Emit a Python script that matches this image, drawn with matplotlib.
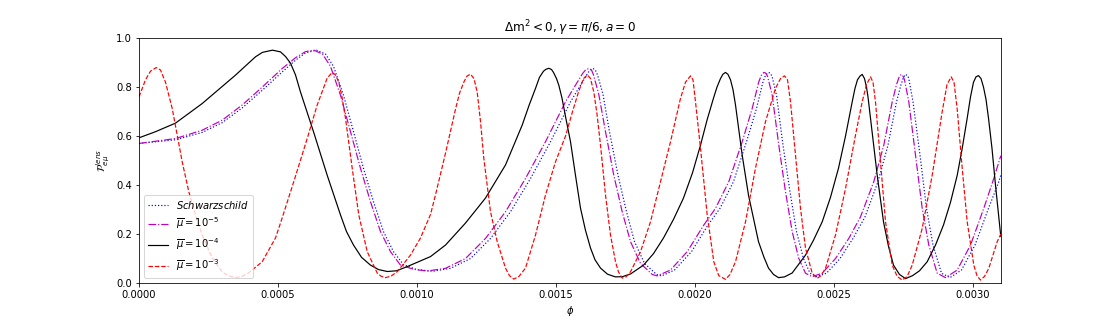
import matplotlib
matplotlib.use('Agg')
import matplotlib.pyplot as plt
import numpy as np

# phi values in units of 1e-4, probabilities
phi_schw = [0.0, 1.313, 2.273, 2.993, 3.712, 4.432, 5.151, 5.629, 5.989, 6.385, 6.709, 6.996,
            7.356, 7.716, 8.076, 8.435, 8.795, 9.155, 9.514, 9.982, 10.558, 11.205, 11.924,
            12.644, 13.363, 14.083, 14.802, 15.522, 15.881, 16.133, 16.223, 16.338, 16.421,
            16.493, 16.691, 16.924, 17.230, 17.536, 17.824, 18.183, 18.615, 18.795, 19.263,
            19.874, 20.468, 20.899, 21.385, 21.853, 22.212, 22.446, 22.536, 22.633, 22.698,
            22.770, 22.932, 23.165, 23.417, 23.651, 23.903, 24.137, 24.371, 24.730, 25.216,
            25.683, 26.115, 26.583, 26.942, 27.248, 27.410, 27.500, 27.572, 27.662, 27.698,
            27.842, 28.094, 28.327, 28.561, 28.867, 29.173, 29.586, 30.072, 30.558, 30.917,
            31.0]
P_schw = [0.57, 0.585, 0.615, 0.655, 0.715, 0.787, 0.862, 0.91, 0.94, 0.951, 0.935, 0.885,
          0.767, 0.618, 0.468, 0.332, 0.21, 0.128, 0.075, 0.055, 0.048, 0.06, 0.10,
          0.182, 0.291, 0.427, 0.577, 0.74, 0.808, 0.855, 0.87, 0.876, 0.868,
          0.85, 0.77, 0.618, 0.44, 0.291, 0.169, 0.08, 0.035, 0.029, 0.053,
          0.128, 0.237, 0.305, 0.414, 0.577, 0.713, 0.822, 0.848, 0.86, 0.858,
          0.845, 0.767, 0.563, 0.373, 0.21, 0.10, 0.04, 0.026, 0.04, 0.10,
          0.182, 0.27, 0.414, 0.563, 0.74, 0.81, 0.84, 0.852, 0.845, 0.83,
          0.74, 0.522, 0.305, 0.155, 0.04, 0.022, 0.053, 0.155, 0.305, 0.41,
          0.44]

phi_m5 = [0.0, 1.313, 2.273, 2.993, 3.712, 4.432, 5.151, 5.629, 5.989, 6.288, 6.601, 6.888,
          7.248, 7.608, 7.968, 8.327, 8.687, 9.047, 9.406, 9.885, 10.367, 11.025, 11.745,
          12.464, 13.183, 13.903, 14.622, 15.342, 15.701, 15.953, 16.061, 16.180, 16.277,
          16.349, 16.540, 16.781, 17.079, 17.381, 17.680, 18.040, 18.460, 18.640, 19.119,
          19.719, 20.317, 20.737, 21.216, 21.698, 22.058, 22.295, 22.385, 22.475, 22.536,
          22.608, 22.777, 23.014, 23.255, 23.496, 23.734, 23.975, 24.216, 24.576, 25.054,
          25.532, 25.953, 26.432, 26.791, 27.094, 27.248, 27.338, 27.417, 27.482, 27.536,
          27.691, 27.932, 28.173, 28.410, 28.712, 29.011, 29.432, 29.910, 30.388, 30.748,
          31.0]
P_m5 = [0.57, 0.59, 0.624, 0.665, 0.727, 0.80, 0.876, 0.92, 0.945, 0.951, 0.935, 0.885,
        0.767, 0.618, 0.468, 0.332, 0.21, 0.128, 0.073, 0.056, 0.049, 0.06, 0.10,
        0.182, 0.291, 0.427, 0.577, 0.74, 0.808, 0.855, 0.87, 0.876, 0.87,
        0.85, 0.77, 0.618, 0.44, 0.291, 0.169, 0.08, 0.035, 0.029, 0.053,
        0.128, 0.237, 0.305, 0.414, 0.577, 0.713, 0.822, 0.848, 0.86, 0.858,
        0.845, 0.767, 0.563, 0.373, 0.21, 0.10, 0.04, 0.026, 0.04, 0.10,
        0.182, 0.27, 0.414, 0.563, 0.74, 0.81, 0.84, 0.852, 0.845, 0.83,
        0.74, 0.522, 0.305, 0.155, 0.04, 0.022, 0.053, 0.155, 0.305, 0.427,
        0.52]

phi_m4 = [0.0, 0.594, 1.313, 2.273, 3.471, 4.191, 4.442, 4.802, 5.090, 5.270, 5.450, 5.629,
          5.809, 6.277, 6.770, 7.248, 7.464, 7.716, 8.004, 8.327, 8.615, 8.928, 9.263,
          9.647, 10.486, 11.025, 11.745, 12.464, 13.183, 13.471, 13.784, 14.029, 14.263,
          14.406, 14.550, 14.640, 14.741, 14.838, 14.910, 15.018, 15.101, 15.216, 15.342,
          15.522, 15.701, 15.881, 16.061, 16.241, 16.403, 16.601, 16.853, 17.140, 17.392,
          17.680, 18.147, 18.507, 18.867, 19.227, 19.586, 19.910, 20.198, 20.432, 20.665,
          20.791, 20.917, 21.007, 21.097, 21.187, 21.277, 21.367, 21.457, 21.698, 21.924,
          22.284, 22.482, 22.644, 22.824, 23.004, 23.219, 23.496, 23.975, 24.263, 24.576,
          24.874, 25.162, 25.414, 25.655, 25.755, 25.845, 25.935, 26.014, 26.097, 26.169,
          26.223, 26.313, 26.554, 26.781, 26.960, 27.140, 27.356, 27.572, 27.824, 28.076,
          28.353, 28.651, 28.939, 29.191, 29.432, 29.612, 29.791, 29.910, 30.018, 30.108,
          30.198, 30.288, 30.378, 30.468, 30.558, 30.683, 30.809, 31.0]
P_m4 = [0.593, 0.618, 0.653, 0.733, 0.849, 0.924, 0.942, 0.951, 0.944, 0.925, 0.898, 0.85,
        0.78, 0.618, 0.44, 0.278, 0.21, 0.155, 0.105, 0.073, 0.055, 0.047, 0.05,
        0.067, 0.108, 0.155, 0.245, 0.347, 0.482, 0.56, 0.645, 0.725, 0.795,
        0.84, 0.865, 0.873, 0.877, 0.872, 0.86, 0.835, 0.808, 0.755, 0.68,
        0.577, 0.44, 0.306, 0.215, 0.143, 0.095, 0.061, 0.036, 0.025, 0.026,
        0.037, 0.073, 0.12, 0.184, 0.26, 0.347, 0.45, 0.563, 0.665, 0.755,
        0.80, 0.835, 0.853, 0.86, 0.852, 0.83, 0.79, 0.727, 0.522, 0.359,
        0.169, 0.105, 0.061, 0.035, 0.022, 0.025, 0.041, 0.114, 0.175, 0.25,
        0.35, 0.469, 0.60, 0.74, 0.795, 0.83, 0.845, 0.852, 0.835, 0.80,
        0.76, 0.673, 0.44, 0.25, 0.15, 0.073, 0.035, 0.018, 0.03, 0.05,
        0.087, 0.155, 0.237, 0.33, 0.44, 0.55, 0.673, 0.76, 0.82, 0.842,
        0.847, 0.835, 0.80, 0.75, 0.673, 0.55, 0.40, 0.19]

phi_m3 = [0.0, 0.234, 0.414, 0.619, 0.773, 0.953, 1.194, 1.374, 1.554, 1.791, 2.032, 2.273,
          2.633, 2.993, 3.219, 3.471, 3.705, 3.939, 4.432, 4.910, 5.090, 5.568, 6.050, 6.410,
          6.770, 6.950, 7.068, 7.187, 7.302, 7.428, 7.669, 7.906, 8.209, 8.568, 8.705, 8.867,
          9.065, 9.288, 9.766, 10.126, 10.486, 10.665, 11.025, 11.385, 11.529, 11.683, 11.799,
          11.924, 12.050, 12.165, 12.284, 12.403, 12.644, 12.885, 13.183, 13.327, 13.482,
          13.669, 13.903, 14.263, 14.622, 14.982, 15.342, 15.594, 15.809, 15.989, 16.133,
          16.241, 16.360, 16.475, 16.601, 16.781, 16.960, 17.140, 17.248, 17.381, 17.518,
          17.680, 18.040, 18.399, 18.759, 19.119, 19.478, 19.658, 19.838, 19.928, 20.018,
          20.198, 20.439, 20.676, 20.856, 21.097, 21.259, 21.457, 21.817, 22.176, 22.536,
          22.896, 23.076, 23.219, 23.327, 23.435, 23.615, 23.795, 23.975, 24.216, 24.396,
          24.532, 24.694, 25.054, 25.414, 25.773, 26.014, 26.169, 26.313, 26.403, 26.493,
          26.673, 26.853, 27.094, 27.273, 27.453, 27.633, 27.813, 28.173, 28.532, 28.892,
          29.065, 29.216, 29.317, 29.432, 29.612, 29.791, 30.029, 30.144, 30.270, 30.414,
          30.568, 30.871, 31.0]
P_m3 = [0.76, 0.83, 0.865, 0.88, 0.87, 0.82, 0.713, 0.604, 0.495, 0.373, 0.278, 0.196,
        0.102, 0.045, 0.03, 0.022, 0.027, 0.041, 0.087, 0.184, 0.245, 0.414, 0.59, 0.727,
        0.837, 0.86, 0.85, 0.82, 0.76, 0.673, 0.469, 0.278, 0.128, 0.041, 0.028, 0.022,
        0.028, 0.046, 0.114, 0.184, 0.28, 0.36, 0.53, 0.71, 0.775, 0.82, 0.845,
        0.853, 0.835, 0.78, 0.66, 0.509, 0.291, 0.169, 0.061, 0.03, 0.016,
        0.027, 0.061, 0.196, 0.359, 0.495, 0.60, 0.70, 0.78, 0.835, 0.85,
        0.835, 0.78, 0.69, 0.563, 0.359, 0.196, 0.087, 0.045, 0.02, 0.025,
        0.046, 0.128, 0.25, 0.414, 0.577, 0.754, 0.82, 0.846, 0.83, 0.74,
        0.55, 0.278, 0.087, 0.03, 0.015, 0.035, 0.087, 0.25, 0.469, 0.659,
        0.795, 0.835, 0.846, 0.83, 0.74, 0.522, 0.305, 0.142, 0.04, 0.019,
        0.03, 0.06, 0.196, 0.386, 0.604, 0.74, 0.81, 0.842, 0.82, 0.74,
        0.495, 0.25, 0.073, 0.027, 0.012, 0.027, 0.073, 0.223, 0.44, 0.70,
        0.81, 0.842, 0.82, 0.71, 0.468, 0.25, 0.073, 0.03, 0.012, 0.027,
        0.06, 0.169, 0.20]

scale = 1e-4

fig, ax = plt.subplots(figsize=(1112 / 72, 318 / 72), dpi=72)

ax.plot(np.array(phi_schw) * scale, P_schw, ':', color='blue', lw=1.2, label=r'$Schwarzschild$')
ax.plot(np.array(phi_m5) * scale, P_m5, '-.', color='m', lw=1.2, label=r'$\overline{\mu}=10^{-5}$')
ax.plot(np.array(phi_m4) * scale, P_m4, '-', color='k', lw=1.2, label=r'$\overline{\mu}=10^{-4}$')
ax.plot(np.array(phi_m3) * scale, P_m3, '--', color='r', lw=1.2, label=r'$\overline{\mu}=10^{-3}$')

ax.set_xlim(0, 0.0031)
ax.set_ylim(0, 1)
ax.set_xlabel(r'$\phi$')
ax.set_ylabel(r'$\mathcal{P}^{lens}_{e\mu}$')
ax.set_title(r'$\Delta \mathrm{m}^2 < 0, \gamma = \pi/6, a = 0$')
ax.legend(loc='lower left')

fig.savefig('out.png', dpi=72)
